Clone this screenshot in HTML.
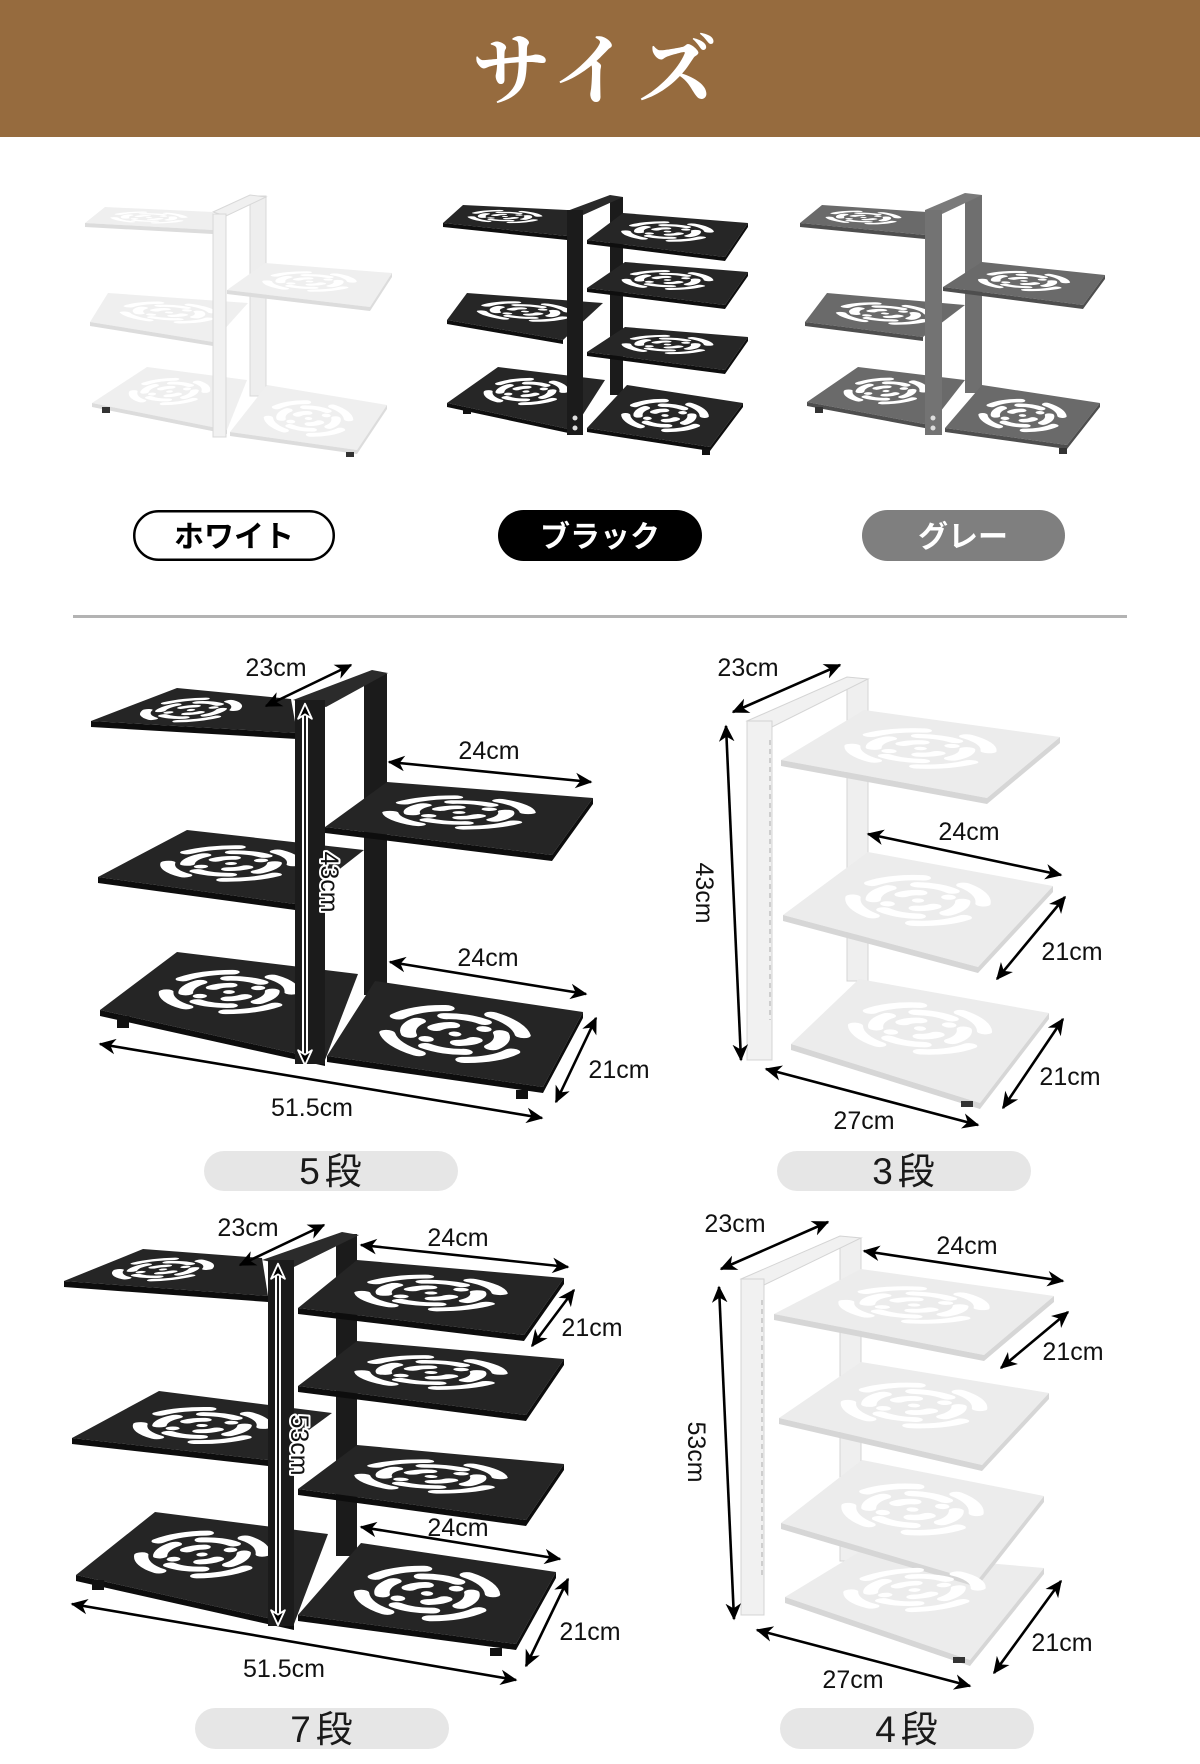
<!DOCTYPE html>
<html><head><meta charset="utf-8">
<style>
html,body{margin:0;padding:0;background:#fff;}
body{width:1200px;height:1764px;overflow:hidden;}
svg{display:block;}
.lb{font-family:"Liberation Sans","Noto Sans CJK JP",sans-serif;font-size:25px;fill:#111;text-anchor:middle;}
.lbw{font-family:"Liberation Sans","Noto Sans CJK JP",sans-serif;font-size:25px;fill:#111;text-anchor:middle;stroke:#fff;stroke-width:4;paint-order:stroke;stroke-linejoin:round;}
.ar{stroke:#000;stroke-width:2.6;fill:none;marker-start:url(#ah);marker-end:url(#ah);}
.jp{font-family:"Noto Sans CJK JP","Liberation Sans",sans-serif;text-anchor:middle;font-weight:bold;}
.dan{font-family:"Liberation Sans","Noto Sans CJK JP",sans-serif;font-size:37px;fill:#1a1a1a;text-anchor:middle;letter-spacing:5px;}
</style></head>
<body>
<svg width="1200" height="1764" viewBox="0 0 1200 1764" xmlns="http://www.w3.org/2000/svg">
<defs>
  <marker id="ah" viewBox="0 0 12 12" refX="11" refY="6" markerWidth="17" markerHeight="17" markerUnits="userSpaceOnUse" orient="auto-start-reverse">
    <path d="M0,0.5 L12,6 L0,11.5 L3.5,6 z" fill="#000"/>
  </marker>
  <marker id="ahw" viewBox="-2 -2 16 16" refX="11" refY="6" markerWidth="20" markerHeight="20" markerUnits="userSpaceOnUse" orient="auto-start-reverse">
    <path d="M0,0.5 L12,6 L0,11.5 L3.5,6 z" fill="#000" stroke="#fff" stroke-width="1.5" stroke-linejoin="round"/>
  </marker>
  <g id="pat">
    <g fill="none" stroke="#fff" stroke-width="7.5" stroke-linecap="round">
      <path d="M19.93,39.06 A32,32 0 0 1 39.06,19.93 M60.94,19.93 A32,32 0 0 1 80.07,39.06 M80.07,60.94 A32,32 0 0 1 60.94,80.07 M39.06,80.07 A32,32 0 0 1 19.93,60.94"/>
      <path d="M40.70,30.06 A22,22 0 0 1 59.30,30.06 M69.94,40.70 A22,22 0 0 1 69.94,59.30 M59.30,69.94 A22,22 0 0 1 40.70,69.94 M30.06,59.30 A22,22 0 0 1 30.06,40.70"/>
      <path d="M39.66,46.24 A11,11 0 0 1 46.24,39.66 M60.34,53.76 A11,11 0 0 1 53.76,60.34"/>
    </g>
    <g fill="#fff">
      <circle cx="61.3" cy="38.7" r="3.6"/>
      <circle cx="38.7" cy="61.3" r="3.6"/>
      <circle cx="50" cy="50" r="3"/>
    </g>
  </g>
</defs>

<!-- Header -->
<rect x="0" y="0" width="1200" height="137" fill="#966b3e"/>
<text x="598" y="98" text-anchor="middle" font-family="'Noto Serif CJK SC','Noto Serif CJK JP',serif" font-weight="bold" font-size="78" letter-spacing="8" fill="#fff">サイズ</text>

<!-- ===== Top white rack ===== -->
<g>
  <rect x="250" y="196" width="16" height="200" fill="#eeeeee" stroke="#d8d8d8" stroke-width="1"/>
  <polygon points="213,212 250,195 266,197 226,216" fill="#f0f0f0" stroke="#d8d8d8" stroke-width="1"/>
  <g fill="#efefef">
    <polygon points="105,207 213,212 213,230 85,223"/>
    <polygon points="108,293 248,303 213,342 90,322"/>
    <polygon points="147,367 247,380 227,430 92,403"/>
    <polygon points="265,263 392,273 370,307 227,290"/>
    <polygon points="267,385 387,405 357,450 230,432"/>
  </g>
  <g fill="#dcdcdc">
    <polygon points="85,223 213,230 213,234 85,227"/>
    <polygon points="90,322 213,342 213,346 90,326"/>
    <polygon points="92,403 227,430 227,434 92,407"/>
    <polygon points="227,290 370,307 370,311 227,294"/><polygon points="392,273 370,307 370,311 392,277"/>
    <polygon points="230,432 357,450 357,454 230,436"/><polygon points="387,405 357,450 357,454 387,409"/>
  </g>
  <use href="#pat" transform="matrix(1.08 0.05 -0.20 0.16 105 207)"/>
  <use href="#pat" transform="matrix(1.40 0.10 -0.18 0.29 108 293)"/>
  <use href="#pat" transform="matrix(1.00 0.13 -0.55 0.36 147 367)"/>
  <use href="#pat" transform="matrix(1.27 0.10 -0.38 0.27 265 263)"/>
  <use href="#pat" transform="matrix(1.20 0.20 -0.37 0.47 267 385)"/>
  <rect x="102" y="407" width="8" height="6" fill="#333"/>
  <rect x="346" y="452" width="8" height="5" fill="#333"/>
  <rect x="213" y="214" width="13" height="223" fill="#f1f1f1" stroke="#d8d8d8" stroke-width="1"/>
</g>

<!-- ===== Top black rack ===== -->
<g>
  <rect x="610" y="197" width="13" height="198" fill="#1b1b1b"/>
  <polygon points="567,211 610,195 623,197 583,215" fill="#2a2a2a"/>
  <g fill="#262626">
    <polygon points="463,205 567,210 567,236 443,223"/>
    <polygon points="467,293 603,303 563,340 447,320"/>
    <polygon points="498,367 605,380 573,430 447,403"/>
    <polygon points="623,213 748,223 725,257 587,240"/>
    <polygon points="625,262 748,272 725,305 587,288"/>
    <polygon points="625,327 748,337 725,370 587,352"/>
    <polygon points="627,385 743,403 710,447 587,428"/>
  </g>
  <g fill="#0e0e0e">
    <polygon points="443,223 567,236 567,240 443,227"/>
    <polygon points="447,320 563,340 563,344 447,324"/>
    <polygon points="447,403 573,430 573,434 447,407"/>
    <polygon points="587,240 725,257 725,261 587,244"/><polygon points="748,223 725,257 725,261 748,227"/>
    <polygon points="587,288 725,305 725,309 587,292"/><polygon points="748,272 725,305 725,309 748,276"/>
    <polygon points="587,352 725,370 725,374 587,356"/><polygon points="748,337 725,370 725,374 748,341"/>
    <polygon points="587,428 710,447 710,451 587,432"/><polygon points="743,403 710,447 710,451 743,407"/>
  </g>
  <use href="#pat" transform="matrix(1.04 0.05 -0.20 0.18 463 205)"/>
  <use href="#pat" transform="matrix(1.36 0.10 -0.20 0.27 467 293)"/>
  <use href="#pat" transform="matrix(1.07 0.13 -0.51 0.36 498 367)"/>
  <use href="#pat" transform="matrix(1.25 0.10 -0.36 0.27 623 213)"/>
  <use href="#pat" transform="matrix(1.23 0.10 -0.38 0.26 625 262)"/>
  <use href="#pat" transform="matrix(1.23 0.10 -0.38 0.25 625 327)"/>
  <use href="#pat" transform="matrix(1.16 0.18 -0.40 0.43 627 385)"/>
  <rect x="463" y="408" width="8" height="6" fill="#111"/>
  <rect x="702" y="449" width="8" height="6" fill="#111"/>
  <rect x="567" y="210" width="16" height="225" fill="#1b1b1b"/>
  <circle cx="575" cy="418" r="2.5" fill="#ddd"/><circle cx="575" cy="428" r="2.5" fill="#ddd"/>
</g>

<!-- ===== Top gray rack ===== -->
<g>
  <rect x="965" y="195" width="17" height="198" fill="#6f6f6f"/>
  <polygon points="925,210 965,193 982,195 942,214" fill="#7a7a7a"/>
  <g fill="#6a6a6a">
    <polygon points="822,205 927,212 925,235 800,223"/>
    <polygon points="827,293 965,305 923,337 805,322"/>
    <polygon points="858,367 965,380 930,425 807,402"/>
    <polygon points="982,262 1105,275 1083,305 943,287"/>
    <polygon points="982,385 1100,403 1067,445 945,428"/>
  </g>
  <g fill="#4e4e4e">
    <polygon points="800,223 925,235 925,239 800,227"/>
    <polygon points="805,322 923,337 923,341 805,326"/>
    <polygon points="807,402 930,425 930,429 807,406"/>
    <polygon points="943,287 1083,305 1083,309 943,291"/><polygon points="1105,275 1083,305 1083,309 1105,279"/>
    <polygon points="945,428 1067,445 1067,449 945,432"/><polygon points="1100,403 1067,445 1067,449 1100,407"/>
  </g>
  <use href="#pat" transform="matrix(1.05 0.07 -0.22 0.18 822 205)"/>
  <use href="#pat" transform="matrix(1.38 0.12 -0.22 0.29 827 293)"/>
  <use href="#pat" transform="matrix(1.07 0.13 -0.51 0.35 858 367)"/>
  <use href="#pat" transform="matrix(1.23 0.13 -0.39 0.25 982 262)"/>
  <use href="#pat" transform="matrix(1.18 0.18 -0.37 0.43 982 385)"/>
  <rect x="815" y="407" width="8" height="6" fill="#333"/>
  <rect x="1059" y="448" width="8" height="6" fill="#333"/>
  <rect x="925" y="210" width="17" height="225" fill="#737373"/>
  <circle cx="933" cy="418" r="2.5" fill="#ddd"/><circle cx="933" cy="428" r="2.5" fill="#ddd"/>
</g>

<!-- Color pills -->
<rect x="134.25" y="511.25" width="199.5" height="48.5" rx="24.25" fill="#fff" stroke="#000" stroke-width="2.5"/>
<text x="234" y="547" class="jp" font-size="30" fill="#000">ホワイト</text>
<rect x="498" y="510" width="204" height="51" rx="25.5" fill="#000"/>
<text x="600" y="547" class="jp" font-size="30" fill="#fff">ブラック</text>
<rect x="862" y="510" width="203" height="51" rx="25.5" fill="#7f7f7f"/>
<text x="963" y="547" class="jp" font-size="30" fill="#fff">グレー</text>

<!-- Divider -->
<rect x="73" y="615" width="1054" height="3" fill="#b3b3b3"/>

<!-- ===== 5段 (black) ===== -->
<g>
  <rect x="364" y="674" width="23" height="321" fill="#1b1b1b"/>
  <polygon points="293,700 372,670 388,673 326,707" fill="#2b2b2b"/>
  <g fill="#252525">
    <polygon points="387,782 593,798 552,855 325,827"/>
    <polygon points="375,981 583,1012 543,1087 327,1056"/>
    <polygon points="177,688 291,699 297,733 91,721"/>
    <polygon points="187,830 364,850 295,904 98,877"/>
    <polygon points="177,952 358,974 325,1060 100,1010"/>
  </g>
  <g fill="#0d0d0d">
    <polygon points="91,721 297,733 297,739 91,727"/>
    <polygon points="98,877 295,904 295,910 98,883"/>
    <polygon points="100,1010 325,1060 325,1066 100,1016"/>
    <polygon points="325,827 552,855 552,861 325,833"/><polygon points="593,798 552,855 552,861 593,804"/>
    <polygon points="327,1056 543,1087 543,1093 327,1062"/><polygon points="583,1012 543,1087 543,1093 583,1018"/>
  </g>
  <use href="#pat" transform="matrix(1.14 0.11 -0.86 0.33 177 688)"/>
  <use href="#pat" transform="matrix(1.77 0.20 -0.89 0.47 187 830)"/>
  <use href="#pat" transform="matrix(1.81 0.22 -0.77 0.58 177 952)"/>
  <use href="#pat" transform="matrix(2.06 0.16 -0.62 0.45 387 782)"/>
  <use href="#pat" transform="matrix(2.08 0.31 -0.48 0.75 375 981)"/>
  <rect x="117" y="1016" width="12" height="12" fill="#111"/>
  <rect x="516" y="1090" width="12" height="9" fill="#111"/>
  <rect x="295" y="700" width="30" height="364" fill="#1b1b1b"/>
</g>
<line x1="305" y1="712" x2="305" y2="1057" stroke="#fff" stroke-width="6"/>
<line x1="305" y1="705" x2="305" y2="1064" stroke="#000" stroke-width="1.8" marker-start="url(#ahw)" marker-end="url(#ahw)"/>
<text class="lbw" transform="translate(321,882) rotate(90)">43cm</text>
<line class="ar" x1="266" y1="706" x2="351" y2="665"/>
<text class="lb" x="276" y="676">23cm</text>
<line class="ar" x1="389" y1="762" x2="591" y2="782"/>
<text class="lb" x="489" y="759">24cm</text>
<line class="ar" x1="390" y1="962" x2="586" y2="994"/>
<text class="lb" x="488" y="966">24cm</text>
<line class="ar" x1="596" y1="1018" x2="556" y2="1102"/>
<text class="lb" x="619" y="1078">21cm</text>
<line class="ar" x1="100" y1="1044" x2="542" y2="1118"/>
<text class="lb" x="312" y="1116">51.5cm</text>
<rect x="204" y="1151" width="254" height="40" rx="20" fill="#e6e6e6"/>
<text class="dan" x="333" y="1184">5段</text>

<!-- ===== 3段 (white) ===== -->
<g>
  <rect x="847" y="679" width="21" height="302" fill="#efefef" stroke="#d4d4d4" stroke-width="1"/>
  <polygon points="747,721 847,677 868,679 772,727" fill="#f1f1f1" stroke="#d4d4d4" stroke-width="1"/>
  <g fill="#ececec">
    <polygon points="859,979 1049,1013 980,1103 791,1044"/>
    <polygon points="868,852 1053,886 978,967 783,915"/>
    <polygon points="864,710 1060,737 987,798 781,760"/>
  </g>
  <g fill="#d6d6d6">
    <polygon points="781,760 987,798 987,804 781,766"/><polygon points="1060,737 987,798 987,804 1060,743"/>
    <polygon points="783,915 978,967 978,973 783,921"/><polygon points="1053,886 978,967 978,973 1053,892"/>
    <polygon points="791,1044 980,1103 980,1109 791,1050"/><polygon points="1049,1013 980,1103 980,1109 1049,1019"/>
  </g>
  <use href="#pat" transform="matrix(1.96 0.27 -0.83 0.50 864 710)"/>
  <use href="#pat" transform="matrix(1.85 0.34 -0.85 0.63 868 852)"/>
  <use href="#pat" transform="matrix(1.90 0.34 -0.68 0.65 859 979)"/>
  <rect x="961" y="1101" width="12" height="6" fill="#333"/>
  <rect x="747" y="721" width="25" height="339" fill="#f1f1f1" stroke="#d4d4d4" stroke-width="1"/>
  <line x1="770" y1="740" x2="770" y2="1020" stroke="#aaa" stroke-width="1" stroke-dasharray="5,4"/>
</g>
<line class="ar" x1="733" y1="712" x2="840" y2="665"/>
<text class="lb" x="748" y="676">23cm</text>
<line class="ar" x1="726" y1="726" x2="741" y2="1060"/>
<text class="lb" transform="translate(696,893) rotate(90)">43cm</text>
<line class="ar" x1="868" y1="834" x2="1061" y2="875"/>
<text class="lb" x="969" y="840">24cm</text>
<line class="ar" x1="1065" y1="897" x2="997" y2="979"/>
<text class="lb" x="1072" y="960">21cm</text>
<line class="ar" x1="1063" y1="1019" x2="1003" y2="1108"/>
<text class="lb" x="1070" y="1085">21cm</text>
<line class="ar" x1="766" y1="1069" x2="978" y2="1125"/>
<text class="lb" x="864" y="1129">27cm</text>
<rect x="777" y="1151" width="254" height="40" rx="20" fill="#e6e6e6"/>
<text class="dan" x="906" y="1184">3段</text>

<!-- ===== 7段 (black) ===== -->
<g>
  <rect x="336" y="1234" width="21" height="322" fill="#1b1b1b"/>
  <polygon points="262,1260 342,1232 359,1235 294,1267" fill="#2b2b2b"/>
  <g fill="#252525">
    <polygon points="357,1260 564,1278 524,1335 298,1308"/>
    <polygon points="357,1341 564,1359 526,1415 298,1386"/>
    <polygon points="357,1445 564,1464 526,1520 298,1489"/>
    <polygon points="361,1543 556,1572 516,1644 298,1615"/>
    <polygon points="143,1249 262,1258 268,1296 64,1281"/>
    <polygon points="159,1391 332,1413 268,1460 72,1438"/>
    <polygon points="155,1512 328,1534 294,1624 76,1575"/>
  </g>
  <g fill="#0d0d0d">
    <polygon points="64,1281 268,1296 268,1302 64,1287"/>
    <polygon points="72,1438 268,1460 268,1466 72,1444"/>
    <polygon points="76,1575 294,1624 294,1630 76,1581"/>
    <polygon points="298,1308 524,1335 524,1341 298,1314"/><polygon points="564,1278 524,1335 524,1341 564,1284"/>
    <polygon points="298,1386 526,1415 526,1421 298,1392"/><polygon points="564,1359 526,1415 526,1421 564,1365"/>
    <polygon points="298,1489 526,1520 526,1526 298,1495"/><polygon points="564,1464 526,1520 526,1526 564,1470"/>
    <polygon points="298,1615 516,1644 516,1650 298,1621"/><polygon points="556,1572 516,1644 516,1650 556,1578"/>
  </g>
  <use href="#pat" transform="matrix(1.19 0.09 -0.79 0.32 143 1249)"/>
  <use href="#pat" transform="matrix(1.73 0.22 -0.87 0.47 159 1391)"/>
  <use href="#pat" transform="matrix(1.73 0.22 -0.79 0.63 155 1512)"/>
  <use href="#pat" transform="matrix(2.07 0.18 -0.59 0.48 357 1260)"/>
  <use href="#pat" transform="matrix(2.07 0.18 -0.59 0.45 357 1341)"/>
  <use href="#pat" transform="matrix(2.07 0.19 -0.59 0.44 357 1445)"/>
  <use href="#pat" transform="matrix(1.95 0.29 -0.63 0.72 361 1543)"/>
  <rect x="92" y="1580" width="12" height="10" fill="#111"/>
  <rect x="490" y="1648" width="12" height="8" fill="#111"/>
  <rect x="268" y="1260" width="26" height="366" fill="#1b1b1b"/>
</g>
<line x1="278" y1="1272" x2="278" y2="1617" stroke="#fff" stroke-width="6"/>
<line x1="278" y1="1265" x2="278" y2="1624" stroke="#000" stroke-width="1.8" marker-start="url(#ahw)" marker-end="url(#ahw)"/>
<text class="lbw" transform="translate(291,1445) rotate(90)">53cm</text>
<line class="ar" x1="240" y1="1265" x2="324" y2="1225"/>
<text class="lb" x="248" y="1236">23cm</text>
<line class="ar" x1="361" y1="1245" x2="568" y2="1267"/>
<text class="lb" x="458" y="1246">24cm</text>
<line class="ar" x1="574" y1="1290" x2="532" y2="1346"/>
<text class="lb" x="592" y="1336">21cm</text>
<line class="ar" x1="361" y1="1527" x2="560" y2="1559"/>
<text class="lb" x="458" y="1536">24cm</text>
<line class="ar" x1="568" y1="1579" x2="526" y2="1666"/>
<text class="lb" x="590" y="1640">21cm</text>
<line class="ar" x1="72" y1="1604" x2="516" y2="1680"/>
<text class="lb" x="284" y="1677">51.5cm</text>
<rect x="195" y="1708" width="254" height="41" rx="20.5" fill="#e6e6e6"/>
<text class="dan" x="324" y="1742">7段</text>

<!-- ===== 4段 (white) ===== -->
<g>
  <rect x="840" y="1238" width="21" height="323" fill="#efefef" stroke="#d4d4d4" stroke-width="1"/>
  <polygon points="741,1279 840,1236 861,1238 764,1285" fill="#f1f1f1" stroke="#d4d4d4" stroke-width="1"/>
  <g fill="#ececec">
    <polygon points="859,1552 1044,1568 970,1660 785,1597"/>
    <polygon points="862,1460 1044,1496 977,1581 781,1523"/>
    <polygon points="861,1362 1049,1393 982,1465 779,1418"/>
    <polygon points="861,1269 1054,1296 984,1355 774,1314"/>
  </g>
  <g fill="#d6d6d6">
    <polygon points="785,1597 970,1660 970,1666 785,1603"/><polygon points="1044,1568 970,1660 970,1666 1044,1574"/>
    <polygon points="781,1523 977,1581 977,1587 781,1529"/><polygon points="1044,1496 977,1581 977,1587 1044,1502"/>
    <polygon points="779,1418 982,1465 982,1471 779,1424"/><polygon points="1049,1393 982,1465 982,1471 1049,1399"/>
    <polygon points="774,1314 984,1355 984,1361 774,1320"/><polygon points="1054,1296 984,1355 984,1361 1054,1302"/>
  </g>
  <use href="#pat" transform="matrix(1.85 0.16 -0.74 0.60 859 1552)"/>
  <use href="#pat" transform="matrix(1.82 0.36 -0.81 0.63 862 1460)"/>
  <use href="#pat" transform="matrix(1.88 0.31 -0.82 0.56 861 1362)"/>
  <use href="#pat" transform="matrix(1.93 0.27 -0.87 0.45 861 1269)"/>
  <rect x="953" y="1657" width="12" height="6" fill="#333"/>
  <rect x="741" y="1279" width="23" height="336" fill="#f1f1f1" stroke="#d4d4d4" stroke-width="1"/>
  <line x1="762" y1="1300" x2="762" y2="1575" stroke="#aaa" stroke-width="1" stroke-dasharray="5,4"/>
</g>
<line class="ar" x1="721" y1="1269" x2="828" y2="1222"/>
<text class="lb" x="735" y="1232">23cm</text>
<line class="ar" x1="864" y1="1251" x2="1063" y2="1281"/>
<text class="lb" x="967" y="1254">24cm</text>
<line class="ar" x1="1068" y1="1312" x2="1001" y2="1368"/>
<text class="lb" x="1073" y="1360">21cm</text>
<line class="ar" x1="719" y1="1287" x2="734" y2="1619"/>
<text class="lb" transform="translate(688,1452) rotate(90)">53cm</text>
<line class="ar" x1="1061" y1="1581" x2="994" y2="1673"/>
<text class="lb" x="1062" y="1651">21cm</text>
<line class="ar" x1="757" y1="1630" x2="970" y2="1686"/>
<text class="lb" x="853" y="1688">27cm</text>
<rect x="780" y="1708" width="254" height="41" rx="20.5" fill="#e6e6e6"/>
<text class="dan" x="909" y="1742">4段</text>
</svg>
</body></html>
